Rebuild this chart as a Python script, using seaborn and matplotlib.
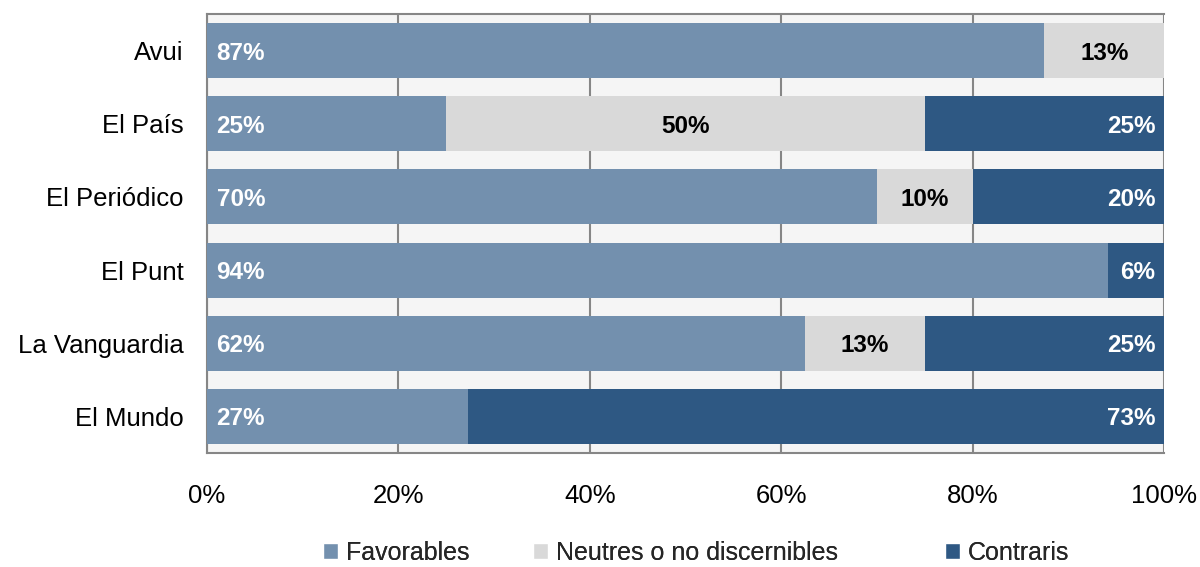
import matplotlib
matplotlib.use("Agg")
import matplotlib.pyplot as plt
import seaborn as sns
import pandas as pd
import numpy as np
from matplotlib.patches import Patch

categories = ["Avui", "El País", "El Periódico", "El Punt", "La Vanguardia", "El Mundo"]
favorables = [87.5, 25.0, 70.0, 94.1, 62.5, 27.3]
neutres = [12.5, 50.0, 10.0, 0.0, 12.5, 0.0]
contraris = [0.0, 25.0, 20.0, 5.9, 25.0, 72.7]
fav_labels = ["87%", "25%", "70%", "94%", "62%", "27%"]
neu_labels = ["13%", "50%", "10%", "", "13%", ""]
con_labels = ["", "25%", "20%", "6%", "25%", "73%"]
series_names = ["Favorables", "Neutres o no discernibles", "Contraris"]
xticks = [0, 20, 40, 60, 80, 100]

c_fav = "#7390ae"
c_neu = "#d9d9d9"
c_con = "#2e5883"
grid_c = "#868686"

sns.set_theme(style="white")
plt.rcParams["font.family"] = ["Liberation Sans", "DejaVu Sans"]

df = pd.DataFrame({"cat": categories, "fav": favorables, "neu": neutres, "con": contraris})
df["fn"] = df["fav"] + df["neu"]
df["tot"] = df["fn"] + df["con"]

fig = plt.figure(figsize=(12, 5.67), dpi=100)
ax = fig.add_axes([207/1200, 1-453/567, (1164-207)/1200, (453-14)/567])
ax.set_facecolor("#f5f5f5")

for col, c in [("tot", c_con), ("fn", c_neu), ("fav", c_fav)]:
    sns.barplot(data=df, x=col, y="cat", orient="h", color=c, width=0.75,
                saturation=1, ax=ax, zorder=3, linewidth=0)

ax.set_xlim(0, 100)
ax.set_ylim(len(categories) - 0.5, -0.5)
ax.set_xticks(xticks)
ax.set_xticklabels([f"{v}%" for v in xticks])
ax.set_xlabel("")
ax.set_ylabel("")
ax.xaxis.grid(True, color=grid_c, linewidth=1.5, zorder=1)
ax.set_axisbelow(True)

ax.set_yticks(np.arange(len(categories)))
ax.set_yticklabels(categories)
ax.set_yticks(np.arange(-0.5, len(categories)), minor=True)
ax.tick_params(axis="y", which="major", length=0, pad=17, labelsize=18.5, labelcolor="black")
ax.tick_params(axis="y", which="minor", length=9, width=1.5, color=grid_c, direction="out")
ax.tick_params(axis="x", which="major", length=7, width=1.5, color=grid_c, direction="out",
               labelsize=18.5, pad=15, labelcolor="black")

for side in ["left", "top", "right", "bottom"]:
    ax.spines[side].set_color(grid_c)
    ax.spines[side].set_linewidth(1.5)
ax.spines["right"].set_visible(False)

for i in range(len(categories)):
    f, n = favorables[i], neutres[i]
    y = i + 0.035
    if fav_labels[i]:
        ax.text(1.0, y, fav_labels[i], ha="left", va="center", color="white",
                fontsize=17.5, fontweight="bold", zorder=5)
    if neu_labels[i]:
        ax.text(f + n / 2, y, neu_labels[i], ha="center", va="center", color="black",
                fontsize=17.5, fontweight="bold", zorder=5)
    if con_labels[i]:
        ax.text(99.1, y, con_labels[i], ha="right", va="center", color="white",
                fontsize=17.5, fontweight="bold", zorder=5)

colors = [c_fav, c_neu, c_con]
legend_x = [323, 533, 945]
for name, c, lx in zip(series_names, colors, legend_x):
    leg = fig.legend([Patch(facecolor=c)], [name], loc="center left",
                     bbox_to_anchor=(lx / 1200, 1 - 553 / 567), frameon=False,
                     handlelength=0.6, handleheight=0.6, handletextpad=0.3,
                     borderpad=0, borderaxespad=0,
                     prop={"family": ["Liberation Sans"], "size": 18})
    fig.add_artist(leg)

fig.savefig("out.png", dpi=100)
